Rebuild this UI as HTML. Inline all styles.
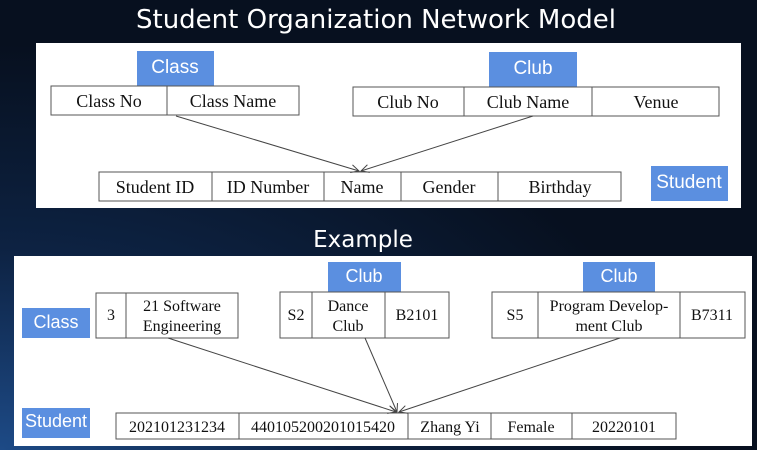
<!DOCTYPE html>
<html><head><meta charset="utf-8"><style>
html,body{margin:0;padding:0;width:757px;height:450px;overflow:hidden;background:#0a1424}
svg{display:block}
.t{font-family:"Liberation Serif",serif;font-size:16px;fill:#111}
.T{font-family:"Liberation Serif",serif;font-size:18px;fill:#111}
.l{font-family:"Liberation Sans",sans-serif;font-size:18px;fill:#fff}
.h{font-family:"DejaVu Sans","Liberation Sans",sans-serif;font-size:23px;fill:#fff}
rect.c{fill:#fff;stroke:#555;stroke-width:1}
line.d{stroke:#555;stroke-width:1}
rect.b{fill:#5b8fe0}
line.a{stroke:#444;stroke-width:1}
</style></head><body>
<svg width="757" height="450" viewBox="0 0 757 450">
<defs>
<radialGradient id="g" cx="0" cy="1" r="0.9">
<stop offset="0" stop-color="#1d4a86"/><stop offset="0.5" stop-color="#0d2242"/><stop offset="1" stop-color="#07101f"/>
</radialGradient>
<marker id="m" markerWidth="10" markerHeight="10" refX="9" refY="5" orient="auto" markerUnits="userSpaceOnUse">
<path d="M1,1 L9,5 L1,9" fill="none" stroke="#444" stroke-width="1"/></marker>
</defs>
<rect width="757" height="450" fill="url(#g)"/>
<text x="376" y="28" text-anchor="middle" class="h" style="font-size:26px">Student Organization Network Model</text>
<rect x="36" y="43" width="705" height="165" fill="#fff"/>
<text x="363" y="247" text-anchor="middle" class="h">Example</text>
<rect x="14" y="256" width="738" height="190" fill="#fff"/>

<!-- top -->
<rect class="b" x="137" y="51" width="77" height="35"/><text class="l" x="175" y="73" text-anchor="middle" style="font-size:19px">Class</text>
<rect class="c" x="51" y="86" width="248" height="29"/><line class="d" x1="167" y1="86" x2="167" y2="115"/>
<text class="T" x="109" y="107" text-anchor="middle">Class No</text><text class="T" x="233" y="107" text-anchor="middle">Class Name</text>

<rect class="b" x="489" y="52" width="88" height="35"/><text class="l" x="533" y="74" text-anchor="middle" style="font-size:19px">Club</text>
<rect class="c" x="353" y="87" width="366" height="29"/>
<line class="d" x1="464" y1="87" x2="464" y2="116"/><line class="d" x1="592" y1="87" x2="592" y2="116"/>
<text class="T" x="408" y="108" text-anchor="middle">Club No</text><text class="T" x="528" y="108" text-anchor="middle">Club Name</text><text class="T" x="656" y="108" text-anchor="middle">Venue</text>

<rect class="c" x="99" y="172" width="522" height="29"/>
<line class="d" x1="212" y1="172" x2="212" y2="201"/><line class="d" x1="324" y1="172" x2="324" y2="201"/><line class="d" x1="401" y1="172" x2="401" y2="201"/><line class="d" x1="498" y1="172" x2="498" y2="201"/>
<text class="T" x="155" y="193" text-anchor="middle">Student ID</text><text class="T" x="268" y="193" text-anchor="middle">ID Number</text><text class="T" x="362" y="193" text-anchor="middle">Name</text><text class="T" x="449" y="193" text-anchor="middle">Gender</text><text class="T" x="560" y="193" text-anchor="middle">Birthday</text>
<rect class="b" x="651" y="166" width="77" height="35"/><text class="l" x="689" y="188" text-anchor="middle" style="font-size:19px">Student</text>
<line class="a" x1="176" y1="116" x2="359" y2="171" marker-end="url(#m)"/>
<line class="a" x1="533" y1="116" x2="361" y2="171" marker-end="url(#m)"/>

<!-- bottom -->
<rect class="b" x="22" y="308" width="68" height="30"/><text class="l" x="56" y="328" text-anchor="middle">Class</text>
<rect class="c" x="96" y="293" width="142" height="45"/><line class="d" x1="126" y1="293" x2="126" y2="338"/>
<text class="t" x="111" y="320" text-anchor="middle">3</text>
<text class="t" x="182" y="311" text-anchor="middle">21 Software</text><text class="t" x="182" y="331" text-anchor="middle">Engineering</text>

<rect class="b" x="328" y="262" width="73" height="30"/><text class="l" x="364" y="282" text-anchor="middle">Club</text>
<rect class="c" x="280" y="292" width="169" height="46"/>
<line class="d" x1="312" y1="292" x2="312" y2="338"/><line class="d" x1="385" y1="292" x2="385" y2="338"/>
<text class="t" x="296" y="320" text-anchor="middle">S2</text>
<text class="t" x="348" y="311" text-anchor="middle">Dance</text><text class="t" x="348" y="331" text-anchor="middle">Club</text>
<text class="t" x="417" y="320" text-anchor="middle">B2101</text>

<rect class="b" x="583" y="262" width="72" height="30"/><text class="l" x="619" y="282" text-anchor="middle">Club</text>
<rect class="c" x="492" y="292" width="253" height="46"/>
<line class="d" x1="538" y1="292" x2="538" y2="338"/><line class="d" x1="680" y1="292" x2="680" y2="338"/>
<text class="t" x="515" y="320" text-anchor="middle">S5</text>
<text class="t" x="609" y="311" text-anchor="middle">Program Develop-</text><text class="t" x="609" y="331" text-anchor="middle">ment Club</text>
<text class="t" x="712" y="320" text-anchor="middle">B7311</text>

<rect class="b" x="22" y="408" width="68" height="30"/><text class="l" x="56" y="427" text-anchor="middle">Student</text>
<rect class="c" x="116" y="413" width="560" height="26"/>
<line class="d" x1="239" y1="413" x2="239" y2="439"/><line class="d" x1="408" y1="413" x2="408" y2="439"/><line class="d" x1="491" y1="413" x2="491" y2="439"/><line class="d" x1="572" y1="413" x2="572" y2="439"/>
<text class="t" x="177" y="432" text-anchor="middle">202101231234</text><text class="t" x="323" y="432" text-anchor="middle">440105200201015420</text><text class="t" x="450" y="432" text-anchor="middle">Zhang Yi</text><text class="t" x="531" y="432" text-anchor="middle">Female</text><text class="t" x="624" y="432" text-anchor="middle">20220101</text>
<line class="a" x1="168" y1="338" x2="396" y2="412" marker-end="url(#m)"/>
<line class="a" x1="365" y1="338" x2="397" y2="412" marker-end="url(#m)"/>
<line class="a" x1="620" y1="338" x2="399" y2="412" marker-end="url(#m)"/>
</svg>
</body></html>
